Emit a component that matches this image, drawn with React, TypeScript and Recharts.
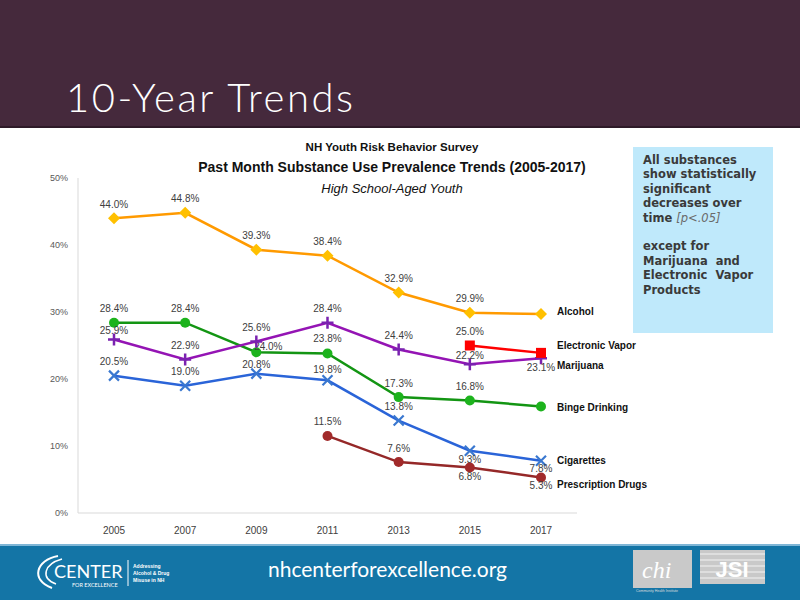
import React from 'react'
import { LineChart, Line, XAxis, YAxis } from 'recharts'

const years = ['2005', '2007', '2009', '2011', '2013', '2015', '2017']
const alcohol = [44.0, 44.8, 39.3, 38.4, 32.9, 29.9, 29.7]
const bingeDrinking = [28.4, 28.4, 24.0, 23.8, 17.3, 16.8, 15.9]
const marijuana = [25.9, 22.9, 25.6, 28.4, 24.4, 22.2, 23.1]
const cigarettes = [20.5, 19.0, 20.8, 19.8, 13.8, 9.3, 7.8]
const prescriptionDrugs = [null, null, null, 11.5, 7.6, 6.8, 5.3]
const electronicVapor = [null, null, null, null, null, 25.0, 23.9]
const yTicks = [0, 10, 20, 30, 40, 50]

const data = years.map((year, i) => ({
  year,
  alcohol: alcohol[i],
  binge: bingeDrinking[i],
  marijuana: marijuana[i],
  cigarettes: cigarettes[i],
  prescription: prescriptionDrugs[i],
  vapor: electronicVapor[i],
}))

type Shape = 'diamond' | 'circle' | 'plus' | 'cross' | 'square'

interface SeriesCfg {
  key: string
  name: string
  line: string
  marker: string
  shape: Shape
  hideLastLabel: boolean
  nameDy: number
  // label offsets: [dx, dy] per point, default above
  labelPos?: Record<number, [number, number]>
}

const series: SeriesCfg[] = [
  { key: 'alcohol', name: 'Alcohol', line: '#ff9a00', marker: '#ffc000', shape: 'diamond', hideLastLabel: true, nameDy: -3 },
  {
    key: 'binge', name: 'Binge Drinking', line: '#139513', marker: '#1db31d', shape: 'circle', hideLastLabel: true, nameDy: 1,
    labelPos: { 2: [12, -6], 3: [0, -15] },
  },
  {
    key: 'marijuana', name: 'Marijuana', line: '#9414b4', marker: '#7a22b0', shape: 'plus', hideLastLabel: false, nameDy: 7,
    labelPos: { 0: [0, -9], 5: [0, -9], 6: [0, 9] },
  },
  {
    key: 'cigarettes', name: 'Cigarettes', line: '#2a64d8', marker: '#3a78d0', shape: 'cross', hideLastLabel: false, nameDy: 0,
    labelPos: { 2: [0, -9], 3: [0, -11], 5: [0, 9], 6: [0, 8] },
  },
  {
    key: 'prescription', name: 'Prescription Drugs', line: '#952828', marker: '#a12a2a', shape: 'circle', hideLastLabel: false, nameDy: 7,
    labelPos: { 5: [0, 9], 6: [0, 8] },
  },
  { key: 'vapor', name: 'Electronic Vapor', line: '#ff0000', marker: '#ff0000', shape: 'square', hideLastLabel: true, nameDy: -7 },
]

const font = '"Liberation Sans", Arial, sans-serif'

const Marker = ({ shape, cx, cy, color }: { shape: Shape; cx: number; cy: number; color: string }) => {
  if (shape === 'diamond')
    return <polygon points={`${cx},${cy - 6} ${cx + 6},${cy} ${cx},${cy + 6} ${cx - 6},${cy}`} fill={color} />
  if (shape === 'circle') return <circle cx={cx} cy={cy} r={5} fill={color} />
  if (shape === 'square') return <rect x={cx - 5} y={cy - 5} width={10} height={10} fill={color} />
  if (shape === 'plus')
    return (
      <path d={`M${cx - 6},${cy} L${cx + 6},${cy} M${cx},${cy - 6} L${cx},${cy + 6}`} stroke={color} strokeWidth={2.5} />
    )
  return (
    <path d={`M${cx - 5},${cy - 5} L${cx + 5},${cy + 5} M${cx - 5},${cy + 5} L${cx + 5},${cy - 5}`} stroke={color} strokeWidth={2.2} />
  )
}

const makeDot = (s: SeriesCfg) => (props: any) => {
  const { cx, cy, index, value } = props
  if (value == null || cy == null || isNaN(cy)) return <g key={`${s.key}-${index}`} />
  const last = index === years.length - 1
  const [dx, dy] = s.labelPos?.[index] ?? [0, -14]
  return (
    <g key={`${s.key}-${index}`}>
      <Marker shape={s.shape} cx={cx} cy={cy} color={s.marker} />
      {!(last && s.hideLastLabel) && (
        <text x={cx + dx} y={cy + dy} dy="0.35em" textAnchor="middle" fontSize={10} fill="#404040" fontFamily={font}>
          {`${Number(value).toFixed(1)}%`}
        </text>
      )}
      {last && (
        <text x={cx + 16} y={cy + s.nameDy} dy="0.35em" textAnchor="start" fontSize={10} fontWeight="bold" fill="#111" fontFamily={font}>
          {s.name}
        </text>
      )}
    </g>
  )
}

const boxLines = ['All substances', 'show statistically', 'significant', 'decreases over']

export default function App() {
  return (
    <div style={{ position: 'relative', width: 800, height: 600, background: '#fff', overflow: 'hidden', fontFamily: font }}>
      <style>{`body{margin:0}`}</style>
      {/* header band */}
      <div style={{ position: 'absolute', left: 0, top: 0, width: 800, height: 126, background: '#45293c' }} />
      <div style={{ position: 'absolute', left: 0, top: 126, width: 800, height: 2, background: '#2e1a28' }} />
      <div
        style={{
          position: 'absolute', left: 66, top: 73, color: '#fff', fontFamily: 'Lato, sans-serif', fontSize: 40,
          fontWeight: 300, letterSpacing: 2.5, lineHeight: '48px',
        }}
      >
        10-Year Trends
      </div>

      {/* chart titles */}
      <div style={{ position: 'absolute', left: 180, width: 424, top: 139, textAlign: 'center', color: '#111', fontWeight: 'bold' }}>
        <div style={{ fontSize: 11.5, lineHeight: '16px' }}>NH Youth Risk Behavior Survey</div>
        <div style={{ fontSize: 14, lineHeight: '22px', marginTop: 1 }}>Past Month Substance Use Prevalence Trends (2005-2017)</div>
        <div style={{ fontSize: 13, lineHeight: '22px', fontStyle: 'italic', fontWeight: 'normal' }}>High School-Aged Youth</div>
      </div>

      {/* note box */}
      <div
        style={{
          position: 'absolute', left: 633, top: 147, width: 140, height: 186, background: '#bfe9fb',
          color: '#3a3a3a', fontFamily: '"DejaVu Sans", sans-serif', fontWeight: 'bold', fontSize: 11.5, lineHeight: '14.4px',
          padding: '6px 0 0 10px', boxSizing: 'border-box',
        }}
      >
        {boxLines.map((l) => (
          <div key={l}>{l}</div>
        ))}
        <div>
          time <span style={{ fontWeight: 'normal', fontStyle: 'italic', color: '#6a6a6a' }}>[p&lt;.05]</span>
        </div>
        <div style={{ height: 14.4 }} />
        <div>except for</div>
        <div>Marijuana&nbsp; and</div>
        <div>Electronic&nbsp; Vapor</div>
        <div>Products</div>
      </div>

      {/* chart */}
      <div style={{ position: 'absolute', left: 0, top: 0 }}>
        <LineChart width={800} height={600} data={data} margin={{ top: 178, right: 223, bottom: 57, left: 30 }}>
          <XAxis
            dataKey="year"
            padding={{ left: 36, right: 36 }}
            tickLine={false}
            axisLine={{ stroke: '#d9d9d9' }}
            tick={{ fontSize: 10, fill: '#404040', fontFamily: font }}
            height={30}
            tickMargin={8}
          />
          <YAxis
            domain={[0, 50]}
            ticks={yTicks}
            width={48}
            tickLine={false}
            axisLine={{ stroke: '#d9d9d9' }}
            tickFormatter={(v) => `${v}%`}
            tick={{ fontSize: 9, fill: '#595959', fontFamily: font }}
            tickMargin={4}
          />
          {series.map((s) => (
            <Line
              key={s.key}
              dataKey={s.key}
              stroke={s.line}
              strokeWidth={2.5}
              dot={makeDot(s)}
              activeDot={false}
              isAnimationActive={false}
            />
          ))}
        </LineChart>
      </div>

      {/* footer band */}
      <div style={{ position: 'absolute', left: 0, top: 544, width: 800, height: 2, background: '#7fb6d6' }} />
      <div style={{ position: 'absolute', left: 0, top: 546, width: 800, height: 54, background: '#1475a6' }} />
      <svg style={{ position: 'absolute', left: 0, top: 546 }} width={800} height={54}>
        <path d="M58,10 C36,14 30,34 52,42" stroke="#fff" strokeWidth={2} fill="none" />
        <path d="M62,13 C44,18 40,32 56,38" stroke="#fff" strokeWidth={1.5} fill="none" />
        <text x={54} y={32} fill="#fff" fontSize={18} fontFamily="Lato, sans-serif">CENTER</text>
        <text x={72} y={41} fill="#fff" fontSize={5.5} fontFamily="Lato, sans-serif">FOR EXCELLENCE</text>
        <line x1={128} y1={14} x2={128} y2={40} stroke="#fff" strokeWidth={1} />
        <text x={133} y={22} fill="#fff" fontSize={5} fontWeight="bold">Addressing</text>
        <text x={133} y={29} fill="#fff" fontSize={5} fontWeight="bold">Alcohol &amp; Drug</text>
        <text x={133} y={36} fill="#fff" fontSize={5} fontWeight="bold">Misuse in NH</text>
        <text x={268} y={31} fill="#fff" fontSize={21} fontFamily="Lato, sans-serif">nhcenterforexcellence.org</text>
        <rect x={633} y={4} width={59} height={38} fill="#c9c9c9" />
        <text x={642} y={32} fill="#fff" fontSize={24} fontStyle="italic" fontFamily="serif">chi</text>
        <text x={636} y={46} fill="#ddd" fontSize={3.5}>Community Health Institute</text>
        <rect x={700} y={4} width={65} height={34} fill="#c9c9c9" />
        {[8, 14, 20, 26, 32].map((y) => (
          <line key={y} x1={700} y1={y} x2={765} y2={y} stroke="#e4e4e4" strokeWidth={1.5} />
        ))}
        <text x={732} y={31} fill="#fff" fontSize={22} fontWeight="bold" textAnchor="middle">JSI</text>
      </svg>
    </div>
  )
}
